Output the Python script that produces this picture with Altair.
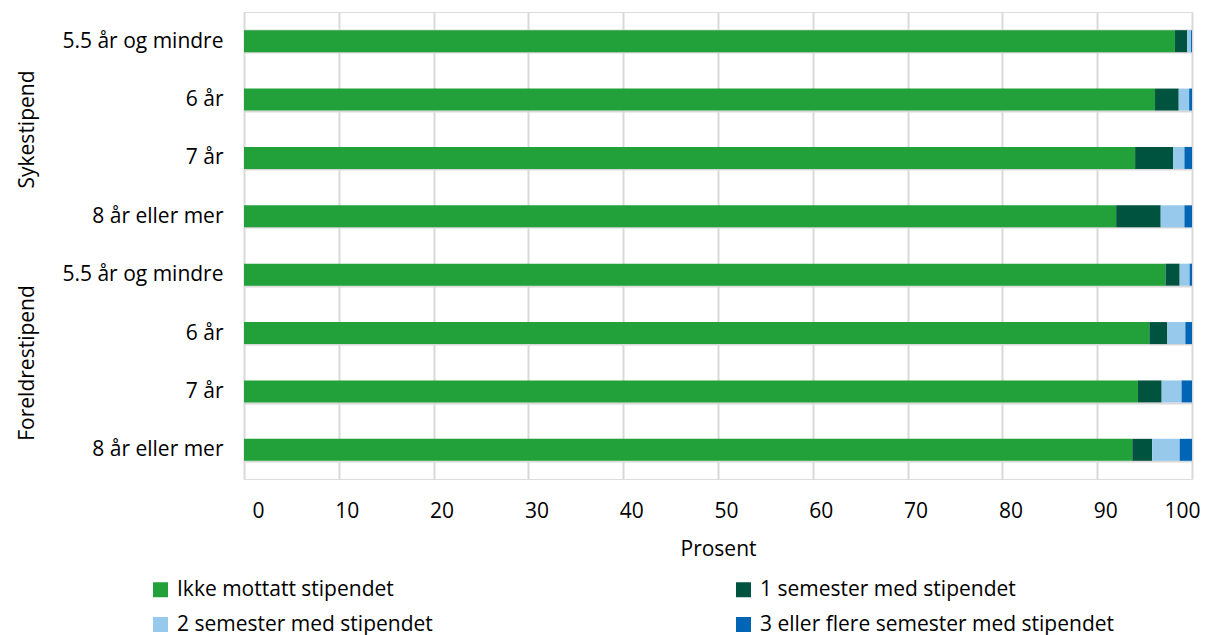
import altair as alt
import pandas as pd

groups = ["Sykestipend"] * 4 + ["Foreldrestipend"] * 4
categories = ["5.5 år og mindre", "6 år", "7 år", "8 år eller mer"] * 2
series_names = [
    "Ikke mottatt stipendet",
    "1 semester med stipendet",
    "2 semester med stipendet",
    "3 eller flere semester med stipendet",
]
ikke = [98.2, 96.1, 94.0, 92.0, 97.2, 95.5, 94.3, 93.7]
sem1 = [1.3, 2.5, 4.0, 4.7, 1.5, 1.9, 2.5, 2.1]
sem2 = [0.4, 1.1, 1.2, 2.5, 1.05, 1.9, 2.1, 2.9]
sem3 = [0.1, 0.3, 0.8, 0.8, 0.25, 0.7, 1.1, 1.3]
colors = ["#22a03a", "#00533f", "#97c9ec", "#0065b4"]
group_names = ["Sykestipend", "Foreldrestipend"]

keys = [g + "|" + c for g, c in zip(groups, categories)]

rows = []
for i in range(len(groups)):
    for k, vals in enumerate([ikke, sem1, sem2, sem3]):
        rows.append({
            "key": keys[i],
            "serie": series_names[k],
            "order": k,
            "value": vals[i],
        })
df = pd.DataFrame(rows)

# group label anchored on the second category of each group
glabels = pd.DataFrame({
    "group": group_names,
    "key": [keys[1], keys[5]],
})

FONT = "Open Sans"
FS = 21

yscale = alt.Scale(domain=keys, paddingInner=0.62, paddingOuter=0.31)

bars = alt.Chart(df).mark_bar(size=22).encode(
    x=alt.X(
        "value:Q",
        stack="zero",
        scale=alt.Scale(domain=[0, 100], nice=False),
        axis=alt.Axis(
            values=list(range(0, 101, 10)),
            title="Prosent",
            labelFontSize=FS,
            titleFontSize=FS,
            labelFont=FONT,
            titleFont=FONT,
            labelColor="#000",
            titleColor="#000",
            titleFontWeight="normal",
            ticks=False,
            domain=False,
            labelPadding=21,
            labelOffset=8,
            titlePadding=17,
            gridColor="#d9d9d9",
            gridWidth=2,
        ),
    ),
    y=alt.Y(
        "key:N",
        sort=keys,
        scale=yscale,
        axis=alt.Axis(
            title=None,
            labelExpr="split(datum.label, '|')[1]",
            labelFontSize=FS,
            labelFont=FONT,
            labelColor="#000",
            ticks=False,
            domain=False,
            labelPadding=21,
            tickBand="extent",
            gridColor="#d9d9d9",
            gridWidth=2,
            grid=True,
        ),
    ),
    color=alt.Color(
        "serie:N",
        sort=series_names,
        scale=alt.Scale(domain=series_names, range=colors),
        legend=alt.Legend(
            title=None,
            orient="none",
            legendX=-94,
            legendY=567,
            direction="horizontal",
            columns=2,
            columnPadding=300,
            rowPadding=13,
            labelFontSize=FS,
            labelFont=FONT,
            labelColor="#000",
            labelOffset=6,
            symbolType="square",
            symbolSize=225,
            symbolStrokeWidth=0,
            labelLimit=500,
        ),
    ),
    order=alt.Order("order:Q"),
)

group_text = alt.Chart(glabels).mark_text(
    angle=270, font=FONT, fontSize=FS, color="#000", align="center", baseline="middle"
).encode(
    y=alt.Y("key:N", sort=keys, scale=yscale),
    yOffset=alt.value(41),
    x=alt.value(-216),
    text="group:N",
)

chart = alt.layer(bars, group_text).properties(
    width=948,
    height=467,
    padding={"top": -7, "left": 8, "right": 5, "bottom": 0},
).configure_view(stroke=None).configure(background="white")

chart.save("out.html", embed_options={"renderer": "svg", "actions": False})
